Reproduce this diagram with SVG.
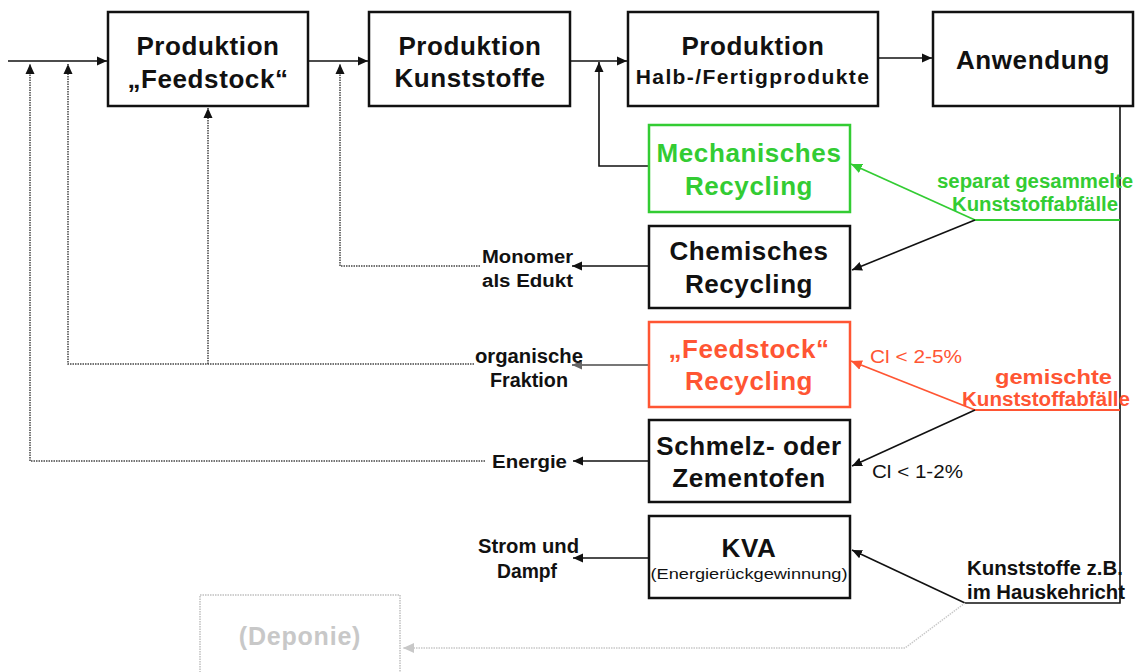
<svg xmlns="http://www.w3.org/2000/svg" width="1135" height="672" viewBox="0 0 1135 672">
<defs>
<marker id="ab" viewBox="0 0 10 10" refX="10" refY="5" markerWidth="10" markerHeight="10" markerUnits="userSpaceOnUse" orient="auto"><path d="M0,0.5 L10,5 L0,9.5 Z" fill="#111"/></marker>
<marker id="ag" viewBox="0 0 10 10" refX="10" refY="5" markerWidth="11" markerHeight="11" markerUnits="userSpaceOnUse" orient="auto"><path d="M0,0.5 L10,5 L0,9.5 Z" fill="#33cc33"/></marker>
<marker id="ar" viewBox="0 0 10 10" refX="10" refY="5" markerWidth="11" markerHeight="11" markerUnits="userSpaceOnUse" orient="auto"><path d="M0,0.5 L10,5 L0,9.5 Z" fill="#ff5533"/></marker>
<marker id="agr" viewBox="0 0 10 10" refX="10" refY="5" markerWidth="10" markerHeight="10" markerUnits="userSpaceOnUse" orient="auto"><path d="M0,0.5 L10,5 L0,9.5 Z" fill="#666"/></marker>
<marker id="alg" viewBox="0 0 10 10" refX="10" refY="5" markerWidth="11" markerHeight="11" markerUnits="userSpaceOnUse" orient="auto"><path d="M0,0.5 L10,5 L0,9.5 Z" fill="#c8c8c8"/></marker>
</defs>
<style>
text{font-family:"Liberation Sans",Arial,sans-serif;font-weight:bold;fill:#111}
.big{font-size:26px;letter-spacing:0.6px;text-anchor:middle}
.mid{font-size:18px}
.nar{font-size:20px}
.c{text-anchor:middle}
.box{fill:#fff;stroke:#111;stroke-width:2.5}
.ln{fill:none;stroke:#111;stroke-width:1.6}
.dot{fill:none;stroke:#444;stroke-width:1.5;stroke-dasharray:1.5 1}
.g{fill:#33cc33}
.r{fill:#ff5533}
</style>
<g id="connectors">
<line class="ln" x1="8" y1="61" x2="107" y2="61" marker-end="url(#ab)"/>
<line class="ln" x1="309" y1="61" x2="368" y2="61" marker-end="url(#ab)"/>
<line class="ln" x1="571" y1="61" x2="627" y2="61" marker-end="url(#ab)"/>
<line class="ln" x1="879" y1="58" x2="932" y2="58" marker-end="url(#ab)"/>
<polyline class="ln" points="649,166 599,166 599,62" marker-end="url(#ab)"/>
<polyline class="ln" points="1120,107 1120,603 965,603"/>
<line x1="975" y1="220" x2="1120" y2="220" stroke="#33cc33" stroke-width="2"/>
<line x1="975" y1="220" x2="851" y2="164" stroke="#33cc33" stroke-width="1.8" marker-end="url(#ag)"/>
<line class="ln" x1="975" y1="220" x2="852" y2="270" marker-end="url(#ab)"/>
<line x1="975" y1="410" x2="1120" y2="410" stroke="#ff5533" stroke-width="2"/>
<line x1="975" y1="410" x2="851" y2="361" stroke="#ff5533" stroke-width="1.8" marker-end="url(#ar)"/>
<line class="ln" x1="975" y1="410" x2="852" y2="466" marker-end="url(#ab)"/>
<line class="ln" x1="965" y1="603" x2="852" y2="550" marker-end="url(#ab)"/>
<polyline points="965,603 905,648 403,648" fill="none" stroke="#c8c8c8" stroke-width="1.5" stroke-dasharray="1.5 1" marker-end="url(#alg)"/>
<line class="ln" x1="649" y1="266" x2="572" y2="266" marker-end="url(#ab)"/>
<line x1="649" y1="365" x2="572" y2="365" stroke="#777" stroke-width="2" marker-end="url(#agr)"/>
<line class="ln" x1="649" y1="461" x2="573" y2="461" marker-end="url(#ab)"/>
<line class="ln" x1="649" y1="558" x2="573" y2="558" marker-end="url(#ab)"/>
<polyline class="dot" points="480,266 340,266 340,64" marker-end="url(#ab)"/>
<polyline class="dot" points="474,364 68,364 68,64" marker-end="url(#ab)"/>
<polyline class="dot" points="208,364 208,108" marker-end="url(#ab)"/>
<polyline class="dot" points="485,461 30,461 30,64" marker-end="url(#ab)"/>
</g>
<g id="n-feedstock">
<rect class="box" x="108" y="12" width="200" height="94"/>
<text class="big" x="208" y="55">Produktion</text>
<text class="big" x="208" y="88">„Feedstock“</text>
</g>
<g id="n-kunststoffe">
<rect class="box" x="369" y="12" width="201" height="94"/>
<text class="big" x="470" y="55">Produktion</text>
<text class="big" x="470" y="87">Kunststoffe</text>
</g>
<g id="n-halbfertig">
<rect class="box" x="628" y="12" width="250" height="94"/>
<text class="big" x="753" y="55">Produktion</text>
<text class="c" x="753" y="84" style="font-size:21px;letter-spacing:1.4px">Halb-/Fertigprodukte</text>
</g>
<g id="n-anwendung">
<rect class="box" x="933" y="12" width="200" height="94"/>
<text class="big" x="1033" y="69">Anwendung</text>
</g>
<g id="n-mech">
<rect x="649" y="125" width="201" height="87" fill="#fff" stroke="#33cc33" stroke-width="2.5"/>
<text class="big g" x="749" y="162">Mechanisches</text>
<text class="big g" x="749" y="195">Recycling</text>
</g>
<g id="n-chem">
<rect class="box" x="649" y="226" width="201" height="82"/>
<text class="big" x="749" y="260">Chemisches</text>
<text class="big" x="749" y="293">Recycling</text>
</g>
<g id="n-feedrec">
<rect x="649" y="322" width="201" height="85" fill="#fff" stroke="#ff5533" stroke-width="2.5"/>
<text class="big r" x="749" y="358">„Feedstock“</text>
<text class="big r" x="749" y="390">Recycling</text>
</g>
<g id="n-ofen">
<rect class="box" x="649" y="420" width="201" height="82"/>
<text class="big" x="749" y="455">Schmelz- oder</text>
<text class="big" x="749" y="487">Zementofen</text>
</g>
<g id="n-kva">
<rect class="box" x="649" y="516" width="201" height="82"/>
<text class="big" x="749" y="557">KVA</text>
<text class="c" x="749" y="579" style="font-size:15px;font-weight:normal" textLength="197" lengthAdjust="spacingAndGlyphs">(Energierückgewinnung)</text>
</g>
<g id="n-deponie">
<rect x="200" y="595" width="200" height="85" fill="none" stroke="#cfcfcf" stroke-width="2" stroke-dasharray="1.5 1"/>
<text class="c" x="300" y="645" style="font-size:25px;letter-spacing:0.8px;fill:#c8c8c8">(Deponie)</text>
</g>
<g id="labels">
<text class="nar g" x="937" y="188" textLength="196" lengthAdjust="spacingAndGlyphs">separat gesammelte</text>
<text class="nar g" x="952" y="211" textLength="166" lengthAdjust="spacingAndGlyphs">Kunststoffabfälle</text>
<text class="nar r" x="995" y="384" textLength="117" lengthAdjust="spacingAndGlyphs">gemischte</text>
<text class="nar r" x="962" y="406" textLength="168" lengthAdjust="spacingAndGlyphs">Kunststoffabfälle</text>
<text class="mid r" x="870" y="363" style="font-weight:normal" textLength="92" lengthAdjust="spacingAndGlyphs">Cl &lt; 2-5%</text>
<text class="mid" x="872" y="478" style="font-weight:normal" textLength="91" lengthAdjust="spacingAndGlyphs">Cl &lt; 1-2%</text>
<text class="nar" x="967" y="575" textLength="156" lengthAdjust="spacingAndGlyphs">Kunststoffe z.B.</text>
<text class="nar" x="967" y="599" textLength="158" lengthAdjust="spacingAndGlyphs">im Hauskehricht</text>
<text class="mid" x="482" y="263" textLength="91" lengthAdjust="spacingAndGlyphs">Monomer</text>
<text class="mid" x="482" y="287" textLength="91" lengthAdjust="spacingAndGlyphs">als Edukt</text>
<text class="nar" x="475" y="363" textLength="108" lengthAdjust="spacingAndGlyphs">organische</text>
<text class="nar" x="490" y="387" textLength="78" lengthAdjust="spacingAndGlyphs">Fraktion</text>
<text class="mid" x="492" y="468" textLength="75" lengthAdjust="spacingAndGlyphs">Energie</text>
<text class="nar" x="478" y="553" textLength="101" lengthAdjust="spacingAndGlyphs">Strom und</text>
<text class="nar" x="497" y="578" textLength="60" lengthAdjust="spacingAndGlyphs">Dampf</text>
</g>
</svg>
